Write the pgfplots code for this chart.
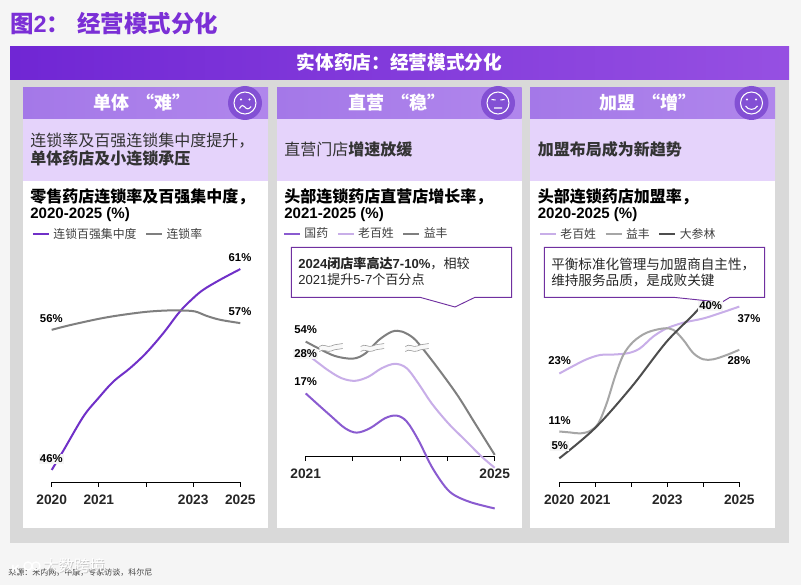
\documentclass[border=0pt]{standalone}
\usepackage{fontspec}
\usepackage{pgfplots}
\pgfplotsset{compat=1.18}
\setmainfont{Liberation Sans}
\newfontfamily\cjk{Noto Sans CJK SC}

\definecolor{bgc}{HTML}{F5F5F5}
\definecolor{panelc}{HTML}{D9D9D9}
\definecolor{bandc}{HTML}{E5D3FB}
\definecolor{titlec}{HTML}{7B2FD6}
\definecolor{edgec}{HTML}{7030A0}
\definecolor{iconc}{HTML}{8350D4}
\definecolor{cPurple}{HTML}{7030C8}
\definecolor{cGuoyao}{HTML}{8A5BD0}
\definecolor{cLbx}{HTML}{C8AEE8}
\definecolor{cGray}{HTML}{7F7F7F}
\definecolor{cYifeng}{HTML}{A6A6A6}
\definecolor{cDsl}{HTML}{4D4D4D}
\definecolor{banL}{HTML}{7026D4}
\definecolor{banR}{HTML}{9650E2}
\definecolor{headL}{HTML}{A478E8}
\definecolor{headR}{HTML}{B086EC}

\newcommand\fs[1]{\fontsize{#1}{#1}\selectfont}
\newcommand\pctlabel[4][none]{\node[fill=#1,inner xsep=1pt,inner ysep=1pt,font=\bfseries\fs{8.5}] at (#2,#3) {#4};}
% wavy break mark of the broken scale, chart 2
\newcommand\brk[2]{\begin{scope}[shift={(#1,#2)}]
  \fill[bgc!60!white] (0,-1) .. controls (4,-4.5) and (8,0.5) .. (12,-1.5) .. controls (16,-3.5) and (19,-3) .. (23.4,-4)
     -- (23.4,1) .. controls (19,2) and (16,1.5) .. (12,3.5) .. controls (8,5.5) and (4,0.5) .. (0,4) -- cycle;
  \draw[gray!80,line width=.45pt] (0,-1) .. controls (4,-4.5) and (8,0.5) .. (12,-1.5) .. controls (16,-3.5) and (19,-3) .. (23.4,-4);
  \draw[gray!80,line width=.45pt] (0,4) .. controls (4,0.5) and (8,5.5) .. (12,3.5) .. controls (16,1.5) and (19,2) .. (23.4,1);
\end{scope}}

\pgfplotsset{
  chart/.style={
    scale only axis, clip=false, hide y axis,
    axis x line=bottom, x axis line style={-,line width=.7pt,black},
    xtick=data, major tick length=3.2pt,
    tick style={line width=.7pt,black},
    xtick align=outside,
    xticklabel style={font=\bfseries\fs{10.3},yshift=-2.5pt,text=black!85},
    legend columns=-1, legend cell align=left,
    legend image code/.code={\draw[#1,line width=1.5pt] (0,0)--(12pt,0);},
    legend style={draw=none,fill=none,anchor=west,inner sep=0pt,outer sep=0pt,
      font=\cjk\fs{8.9},text=black!75,
      nodes={inner sep=0pt,anchor=west},
      /tikz/every odd column/.append style={column sep=2.6pt},
      /tikz/every even column/.append style={column sep=6.4pt}},
  },
  ser/.style={line width=1.5pt,smooth,tension=0.55,no markers,color=#1},
}

\begin{document}
\begin{tikzpicture}[x=0.75pt,y=-0.75pt]
\useasboundingbox (0,0) rectangle (801,585);
\fill[bgc] (0,0) rectangle (801,585);

\node[anchor=west,inner sep=0pt,text=titlec,font=\bfseries\fs{17.6}] at (10,24) {{\cjk 图}2{\cjk ：\hspace{.3em}经营模式分化}};

% frame and banner
\fill[panelc] (10,80) rectangle (789,543);
\shade[left color=banL,right color=banR] (10,47) rectangle (789,80);
\node[text=white,font=\cjk\bfseries\fs{14}] at (399.5,62.5) {实体药店：经营模式分化};

% three panels
\foreach \xa/\xb in {23/268,277/521.6,530/775}{
  \fill[white] (\xa,181) rectangle (\xb,528);
  \fill[bandc] (\xa,119) rectangle (\xb,181);
  \shade[left color=headL,right color=headR] (\xa,88) rectangle (\xb,119);
}
\node[text=white,font=\cjk\bfseries\fs{13.5}] at (142,102.5) {单体\hspace{.4em}“难”};
\node[text=white,font=\cjk\bfseries\fs{13.5}] at (397,102.5) {直营\hspace{.4em}“稳”};
\node[text=white,font=\cjk\bfseries\fs{13.5}] at (648,102.5) {加盟\hspace{.4em}“增”};

% faces
\foreach \cx in {245,498,751.5}{
  \fill[iconc] (\cx,103) circle (17);
  \draw[white,line width=.8pt] (\cx,103) circle (11);
}
\fill[white] (241,99.5) circle (1.1) (249.5,99.5) circle (1.1);
\draw[white,line width=.8pt] (239.5,108.5) .. controls (241.5,104.5) and (244,105) .. (245,107) .. controls (246.5,109.5) and (249,109.5) .. (251,106.5);
\draw[white,line width=.8pt] (491.5,99.5) -- (495.5,100) (500.5,100) -- (504.5,99.5) (494,108) -- (502,108);
\fill[white] (747,99.5) circle (1.1) (756,99.5) circle (1.1);
\draw[white,line width=.8pt] (745.5,106) .. controls (748,110.5) and (755,110.5) .. (757.5,106);

% band texts
\begin{scope}[every node/.style={anchor=west,inner sep=0pt,text=black!80,font=\cjk\fs{12}}]
\node at (30,141) {连锁率及百强连锁集中度提升，};
\node[font=\cjk\bfseries\fs{12}] at (30,159) {单体药店及小连锁承压};
\node at (284,149) {直营门店\textbf{增速放缓}};
\node[font=\cjk\bfseries\fs{12}] at (537.5,149) {加盟布局成为新趋势};
\end{scope}

% chart titles
\begin{scope}[every node/.style={anchor=west,inner sep=0pt,text=black,font=\bfseries\fs{12}}]
\node[font=\cjk\bfseries\fs{12}] at (30,197) {零售药店连锁率及百强集中度，};
\node[font=\bfseries\fs{11.3}] at (30,214.5) {2020-2025 (\%)};
\node[font=\cjk\bfseries\fs{12}] at (284,197) {头部连锁药店直营店增长率，};
\node[font=\bfseries\fs{11.3}] at (284,214.5) {2021-2025 (\%)};
\node[font=\cjk\bfseries\fs{12}] at (537.5,197) {头部连锁药店加盟率，};
\node[font=\bfseries\fs{11.3}] at (537.5,214.5) {2020-2025 (\%)};
\end{scope}

% chart 1
\coordinate (o1) at (51.7,482.3);
\begin{axis}[chart, at={(o1)}, anchor=south west, width=141.45pt, height=174.2pt,
  xmin=0, xmax=4, ymin=45.08, ymax=62.4,
  xtick={0,1,2,3,4}, xticklabels={2020,2021,,2023,2025},
  legend style={at={(axis description cs:-0.1045,1.069)}}]
\addplot[ser=cPurple] coordinates {
(0,46) (0.247,47.44) (0.671,49.98) (0.989,51.35) (1.307,52.59) (1.661,53.59) (2.0,54.71)
(2.367,56.2) (2.72,57.82) (3.0,58.81) (3.216,59.44) (3.57,60.18) (4,60.98)};
\addlegendentry{连锁百强集中度}
\addplot[ser=cGray] coordinates {
(0,56.45) (0.389,56.8) (1,57.27) (1.449,57.54) (2,57.79) (2.438,57.89) (2.756,57.89)
(3.04,57.82) (3.286,57.49) (3.57,57.2) (4,56.95)};
\addlegendentry{连锁率}
\end{axis}
\pctlabel{240}{257.5}{61\%}
\pctlabel{240}{311.7}{57\%}
\pctlabel{51.3}{319}{56\%}
\pctlabel[bgc]{51.3}{459}{46\%}

% chart 2: scale is broken above the wavy marks, so the y values of the 54% line are its drawn height
\coordinate (o2) at (305.7,511.8);
\begin{axis}[chart, at={(o2)}, anchor=south west, width=141.75pt, height=138.75pt,
  xmin=0, xmax=4, ymin=-15, ymax=35,
  axis x line shift=-41.625pt,
  xtick={0,1,2,3,4}, xticklabels={2021,,,,2025},
  legend style={at={(axis description cs:-0.12,1.5016)}}]
\addplot[ser=cGuoyao] coordinates {
(0,17.0) (0.268,13.9) (0.55,10.7) (0.832,7.6) (1.079,6.4) (1.362,7.6) (1.68,10.3) (1.926,11.0)
(2.138,9.4) (2.384,4.4) (2.667,-2.8) (2.949,-8.2) (3.16,-10.6) (3.513,-12.5) (4,-14.1)};
\addlegendentry{国药}
\addplot[ser=cLbx] coordinates {
(0,27.8) (0.198,25.9) (0.48,23.2) (0.762,21.1) (1.044,20.4) (1.326,21.5) (1.608,23.8) (1.89,25)
(2.138,23.8) (2.384,19.7) (2.667,14.3) (3.019,8.9) (3.372,4.4) (3.725,-0.1) (4,-3.1)};
\addlegendentry{老百姓}
\addplot[ser=cGray] coordinates {
(0,31.0) (0.268,29.2) (0.621,27.1) (1.0,26.4) (1.263,27.8) (1.545,31.4) (1.827,33.7) (2.04,33.7)
(2.285,31.9) (2.527,28.3) (2.88,22.4) (3.233,16.1) (3.584,8.9) (4,0.4)};
\addlegendentry{益丰}
\end{axis}
\brk{319.3}{347.5}
\brk{360.7}{347.5}
\brk{405.3}{347.5}
\pctlabel{305.7}{330}{54\%}
\pctlabel[bgc]{305.7}{354}{28\%}
\pctlabel{305.7}{381.7}{17\%}

% chart 3
\coordinate (o3) at (559.3,482.3);
\begin{axis}[chart, at={(o3)}, anchor=south west, width=135pt, height=149.6pt,
  xmin=0, xmax=5, ymin=0, ymax=42,
  xtick={0,1,2,3,4,5}, xticklabels={2020,2021,,2023,,2025},
  legend style={at={(axis description cs:-0.1128,1.2446)}}]
\addplot[ser=cLbx] coordinates {
(0,22.9) (0.389,24.5) (0.759,25.9) (1.13,26.8) (1.5,26.9) (1.917,27.2) (2.24,28.2) (2.611,30.7)
(2.981,32.4) (3.444,33.6) (4,34.5) (4.46,35.6) (5,37)};
\addlegendentry{老百姓}
\addplot[ser=cYifeng] coordinates {
(0,10.7) (0.296,10.5) (0.574,10.3) (0.852,10.8) (1.083,12.4) (1.315,16.6) (1.546,22.2) (1.778,26.8)
(2.056,29.6) (2.426,31.5) (2.889,32.4) (3.167,32.1) (3.444,30) (3.722,27.2) (4,25.9) (4.278,25.9)
(4.648,26.8) (5,27.9)};
\addlegendentry{益丰}
\addplot[ser=cDsl] coordinates {
(0,5.05) (0.991,11.4) (2.009,20.1) (2.981,29.6) (3.9,36.8) (4,40)};
\addlegendentry{大参林}
\end{axis}
\pctlabel{559.7}{360.7}{23\%}
\pctlabel{749}{319}{37\%}
\pctlabel{739}{360.7}{28\%}
\pctlabel{559.7}{421}{11\%}
\pctlabel[bgc]{559.7}{446}{5\%}

% callouts
\filldraw[fill=white,draw=edgec,line width=.7pt] (291.3,247.3) -- (511.7,247.3) -- (511.7,297.3) -- (475,297.3) -- (455,307) -- (420,297.3) -- (291.3,297.3) -- cycle;
\node[anchor=west,inner sep=0pt,text=black!85,font=\fs{9.8}] at (298,264) {\textbf{2024{\cjk 闭店率高达}7-10\%}{\cjk ，相较}};
\node[anchor=west,inner sep=0pt,text=black!85,font=\fs{9.8}] at (298,280) {2021{\cjk 提升}5-7{\cjk 个百分点}};
\filldraw[fill=white,draw=edgec,line width=.7pt] (544.3,247.3) -- (764.7,247.3) -- (764.7,297.3) -- (730,297.3) -- (721.7,302.3) -- (673.3,297.3) -- (544.3,297.3) -- cycle;
\node[anchor=west,inner sep=0pt,text=black!85,font=\cjk\fs{10.2}] at (551,264) {平衡标准化管理与加盟商自主性，};
\node[anchor=west,inner sep=0pt,text=black!85,font=\cjk\fs{10.2}] at (551,280) {维持服务品质，是成败关键};
\pctlabel[bgc]{710.7}{306}{40\%}

% source and watermark
\node[anchor=west,inner sep=0pt,text=black!75,font=\cjk\fs{6}] at (8,573) {来源：米内网，中康，专家访谈，科尔尼};
\node[anchor=west,inner sep=0pt,text=gray!60,opacity=.7,font=\cjk\fs{11.6}] at (43.7,566.7) {大数跨境};
\node[anchor=west,inner sep=0pt,text=white,font=\cjk\fs{11.6}] at (43,566) {大数跨境};
\draw[white,line width=1pt] (28,566) circle (4) (36,566) circle (4);
\node[anchor=west,inner sep=0pt,text=white,font=\bfseries\fs{9}] at (11,569) {K};
\end{tikzpicture}
\end{document}
